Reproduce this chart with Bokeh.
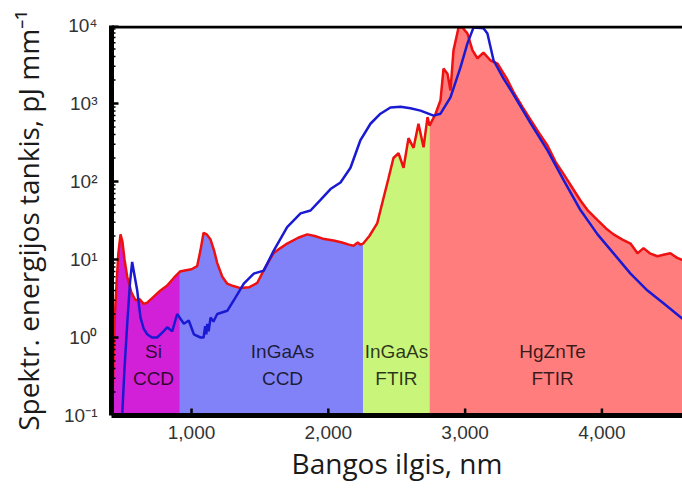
from bokeh.plotting import figure
from bokeh.models import (FixedTicker, NumeralTickFormatter, CustomJSTickFormatter,
                          Range1d, LabelSet, ColumnDataSource)
from bokeh.core.properties import value
from bokeh.embed import file_html
from bokeh.resources import INLINE

# ---- data ----
red_nm = [420, 430, 440, 452, 465, 481, 495, 510, 530, 560,
          590, 620, 650, 676, 720, 773, 820, 870, 915, 960,
          1000, 1041, 1065, 1088, 1110, 1139, 1165, 1188, 1225, 1261,
          1300, 1358, 1420, 1480, 1540, 1599, 1650, 1699, 1780, 1846,
          1900, 1960, 2038, 2100, 2150, 2184, 2215, 2235, 2255, 2300,
          2357, 2403, 2440, 2476, 2513, 2550, 2586, 2623, 2659, 2696,
          2725, 2740, 2784, 2820, 2842, 2871, 2893, 2915, 2952, 2981,
          3017, 3054, 3090, 3134, 3186, 3237, 3310, 3354, 3420, 3478,
          3540, 3602, 3660, 3719, 3780, 3843, 3900, 3968, 4030, 4085,
          4150, 4209, 4260, 4304, 4350, 4406, 4450, 4500, 4550, 4589]
red_val = [0.1, 0.5, 2, 5, 12, 21, 17, 10, 6, 3.8,
           3.0, 3.1, 2.7, 2.8, 3.3, 4.0, 4.6, 5.8, 7.0, 7.3,
           7.5, 8.2, 13, 22, 21, 18, 13, 9, 6, 4.9,
           4.6, 4.3, 4.4, 5.0, 8, 12, 14, 16, 19, 21,
           20, 18.5, 17.5, 16.5, 15.5, 15, 16.5, 15.5, 16, 20,
           29, 61, 110, 200, 230, 150, 360, 270, 550, 275,
           670, 520, 740, 1100, 2800, 2400, 1470, 4800, 9400, 9400,
           7900, 4800, 3800, 4500, 3560, 3250, 2000, 1400, 900, 620,
           420, 290, 180, 125, 85, 57, 42, 32, 25, 21,
           18, 16, 12, 14, 12, 11, 11.5, 12, 10.5, 9.8]

blue_nm = [493, 510, 530, 550, 566, 585, 603, 627, 650, 676,
           710, 749, 795, 822, 859, 895, 944, 980, 1017, 1066,
           1088, 1100, 1108, 1115, 1125, 1139, 1160, 1188, 1261, 1309,
           1382, 1455, 1528, 1601, 1699, 1797, 1870, 1943, 2016, 2089,
           2162, 2235, 2308, 2381, 2454, 2528, 2600, 2674, 2769, 2820,
           2893, 2966, 3017, 3061, 3134, 3163, 3208, 3280, 3354, 3478,
           3602, 3719, 3843, 3968, 4085, 4209, 4333, 4450, 4589]
blue_val = [0.1, 0.4, 1.5, 5, 9.3, 6, 4, 1.8, 1.3, 1.1,
            1.0, 1.0, 1.2, 1.35, 1.2, 2.0, 1.5, 1.65, 1.1, 1.0,
            1.0, 1.4, 1.1, 1.5, 1.2, 1.8, 1.6, 2.0, 2.2, 3.0,
            4.9, 6.6, 7.2, 13, 26, 39, 42.5, 58, 80, 97,
            150, 340, 550, 740, 890, 910, 870, 810, 700, 740,
            1200, 2900, 5900, 9400, 9200, 7900, 3560, 2100, 1300, 560,
            250, 105, 43, 21, 12, 6.6, 4, 2.75, 1.74]

region_edges = [420, 915, 2255, 2740, 4589]
region_colors = ["#D220D8", "#8282F8", "#C8F57A", "#FF7D7D"]
label_top = ["Si", "InGaAs", "InGaAs", "HgZnTe"]
label_bottom = ["CCD", "CCD", "FTIR", "FTIR"]
label_x = [722, 1665, 2498, 3639]

x_ticks = [1000, 2000, 3000, 4000]
y_ticks = [0.1, 1, 10, 100, 1000, 10000]
y_minor = [m * 10.0 ** e for e in range(-1, 4) for m in range(2, 10)]

X_LO, X_HI = 415, 4589
Y_LO, Y_HI = 0.1, 1e4
FRAME_W, FRAME_H = 571, 390        # frame size in pixels
PX_X = (X_HI - X_LO) / FRAME_W     # data units per pixel along x
PX_Y_DEC = 5 / FRAME_H             # decades per pixel along y

assert len(red_nm) == len(red_val) and len(blue_nm) == len(blue_val)

p = figure(width=682, height=489, y_axis_type="log",
           x_range=Range1d(X_LO, X_HI), y_range=Range1d(Y_LO, Y_HI),
           output_backend="svg", toolbar_location=None,
           min_border_left=111, min_border_right=0,
           min_border_top=25, min_border_bottom=74)
p.outline_line_color = None
p.xgrid.visible = False
p.ygrid.visible = False
p.background_fill_color = "white"
p.border_fill_color = "white"

# filled regions under the red curve
for i, col in enumerate(region_colors):
    lo, hi = region_edges[i], region_edges[i + 1]
    xs = [x for x in red_nm if lo <= x <= hi]
    ys = [v for x, v in zip(red_nm, red_val) if lo <= x <= hi]
    p.varea(x=xs, y1=[Y_LO] * len(xs), y2=ys, fill_color=col, fill_alpha=1.0)

p.line(red_nm, red_val, line_color="#EE1111", line_width=2.5)
p.line(blue_nm, blue_val, line_color="#1A1AD2", line_width=2.5)

for texts, yy in ((label_top, 0.66), (label_bottom, 0.30)):
    src = ColumnDataSource(dict(x=label_x, y=[yy] * len(texts), t=texts))
    p.add_layout(LabelSet(x="x", y="y", text="t", source=src,
                          text_font=value("Liberation Sans"), text_font_size=value("19px"),
                          text_align="center", text_baseline="middle",
                          text_color="black", text_alpha=0.78))

# inward tick marks, drawn as thin filled quads
maj_len, min_len, maj_w, min_w = 7, 4, 2.5, 1.5
p.quad(left=[t - maj_w / 2 * PX_X for t in x_ticks], right=[t + maj_w / 2 * PX_X for t in x_ticks],
       bottom=[Y_LO] * len(x_ticks), top=[Y_LO * 10 ** (maj_len * PX_Y_DEC)] * len(x_ticks),
       fill_color="black", line_color=None)
p.quad(left=[X_LO] * len(y_ticks), right=[X_LO + maj_len * PX_X] * len(y_ticks),
       bottom=[t * 10 ** (-maj_w / 2 * PX_Y_DEC) for t in y_ticks],
       top=[t * 10 ** (maj_w / 2 * PX_Y_DEC) for t in y_ticks],
       fill_color="black", line_color=None)
p.quad(left=[X_LO] * len(y_minor), right=[X_LO + min_len * PX_X] * len(y_minor),
       bottom=[t * 10 ** (-min_w / 2 * PX_Y_DEC) for t in y_minor],
       top=[t * 10 ** (min_w / 2 * PX_Y_DEC) for t in y_minor],
       fill_color="black", line_color=None)

# top frame line (thin filled band along the top of the frame)
p.quad(left=[X_LO], right=[X_HI], bottom=[Y_HI * 10 ** (-3 * PX_Y_DEC)], top=[Y_HI],
       fill_color="black", line_color=None)

xaxis = p.below[0]
yaxis = p.left[0]
yaxis.ticker = FixedTicker(ticks=y_ticks, minor_ticks=[])
yaxis.formatter = CustomJSTickFormatter(code="""
const sup = {'-':'\u207B','0':'\u2070','1':'\u00B9','2':'\u00B2','3':'\u00B3','4':'\u2074'};
const e = Math.round(Math.log10(tick));
return '10' + String(e).split('').map(c => sup[c]).join('');
""")
xaxis.ticker = FixedTicker(ticks=x_ticks, minor_ticks=[])
xaxis.formatter = NumeralTickFormatter(format="0,0")

for ax in (xaxis, yaxis):
    ax.axis_line_width = 5
    ax.axis_line_color = "black"
    ax.major_tick_in = 0
    ax.major_tick_out = 0
    ax.minor_tick_in = 0
    ax.minor_tick_out = 0
    ax.major_label_text_font = "Liberation Sans"
    ax.major_label_text_font_size = "19px"
    ax.major_label_text_color = "#333333"
    ax.axis_label_text_font = "Open Sans"
    ax.axis_label_text_font_size = "28px"
    ax.axis_label_text_font_style = "normal"
    ax.axis_label_text_color = "#1a1a1a"

xaxis.axis_label = "Bangos ilgis, nm"
yaxis.axis_label = "Spektr. energijos tankis, pJ mm\u207B\u00B9"
xaxis.major_label_standoff = 10
xaxis.axis_label_standoff = 2
yaxis.major_label_standoff = 14
yaxis.axis_label_standoff = 14

open("out.html", "w").write(file_html(p, INLINE))
